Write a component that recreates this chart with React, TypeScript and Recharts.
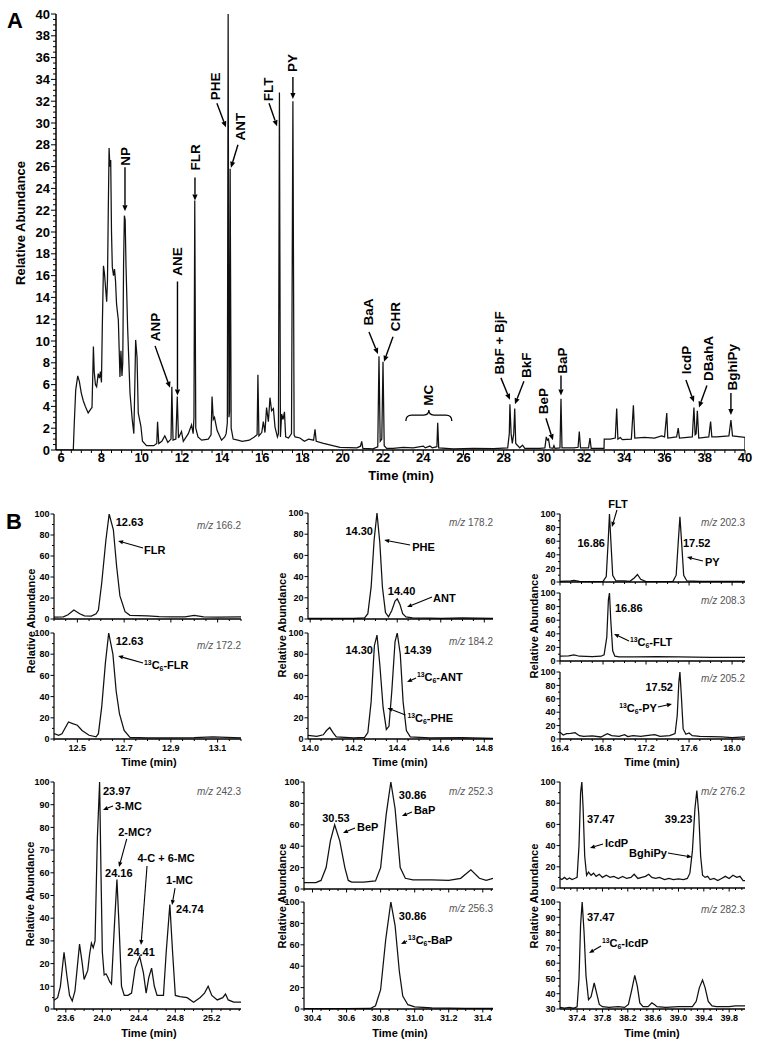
import { Line, LineChart, ReferenceDot, XAxis, YAxis } from "recharts";

const FONT = "'Liberation Sans', Arial, Helvetica, sans-serif";

type Pt = [number, number];
type Box = { left: number; right: number; top: number; bottom: number };
type Note = {
  x: number;
  y: number;
  label?: string;
  at?: [number, number];
  tail?: [number, number];
  anchor?: "start" | "middle" | "end";
  mz?: boolean;
  brace?: boolean;
};

// ---- panel A: full scan chromatogram (time min, relative abundance) ----
const fullScan: Pt[] = [
  [5.74, 0], [6.6, 0], [6.65, 2.5], [6.72, 5.5], [6.82, 6.8], [6.9, 6.3], [7.0, 5.2], [7.1, 4.5], [7.2, 4.0],
  [7.34, 3.4], [7.45, 3.7], [7.53, 3.9], [7.57, 7], [7.6, 9.5], [7.64, 7.2], [7.7, 6.0], [7.76, 5.8], [7.84, 7.0],
  [7.9, 6.6], [7.95, 7.2], [8.0, 6.2], [8.04, 11], [8.1, 16.9], [8.15, 16.2], [8.2, 15.0], [8.26, 13.6], [8.3, 15.6],
  [8.34, 22], [8.38, 27.7], [8.42, 26.0], [8.46, 26.6], [8.5, 20], [8.54, 16.8], [8.6, 16.0], [8.65, 16.6], [8.7, 15.5],
  [8.75, 13.4], [8.84, 11.9], [8.92, 6.7], [8.97, 9.1], [9.02, 6.8], [9.06, 8], [9.1, 17], [9.14, 21.5], [9.18, 21.1],
  [9.22, 17], [9.3, 11.3], [9.42, 5.2], [9.53, 2.8], [9.61, 1.5], [9.66, 6], [9.7, 10.1], [9.74, 9.2], [9.77, 8.5],
  [9.83, 3.4], [9.96, 2.2], [10.04, 0.8], [10.24, 0.4], [10.6, 0.4], [10.75, 0.6], [10.79, 2.6], [10.85, 0.6],
  [11.0, 0.8], [11.15, 1.3], [11.3, 0.7], [11.46, 1.0], [11.5, 5.8], [11.56, 0.9], [11.7, 1.0], [11.77, 4.9],
  [11.83, 1.1], [11.98, 1.7], [12.07, 0.8], [12.32, 1.5], [12.48, 2.3], [12.56, 1.5], [12.6, 3], [12.64, 22.9],
  [12.69, 2.0], [12.8, 1.2], [12.98, 0.9], [13.31, 1.0], [13.45, 1.4], [13.5, 4.9], [13.56, 2.8], [13.62, 3.0],
  [13.75, 1.8], [13.97, 0.9], [14.13, 1.2], [14.2, 1.5], [14.26, 2.5], [14.3, 40], [14.34, 3], [14.37, 3.5],
  [14.4, 25.8], [14.45, 2], [14.55, 1.0], [14.78, 0.9], [15.0, 0.8], [15.35, 0.9], [15.6, 1.2], [15.74, 1.4],
  [15.78, 6.9], [15.83, 1.3], [15.97, 1.6], [16.05, 2.6], [16.13, 1.6], [16.21, 3.9], [16.3, 2.6], [16.38, 4.8],
  [16.46, 3.6], [16.55, 3.8], [16.63, 2.1], [16.75, 1.2], [16.8, 1.5], [16.85, 32.8], [16.9, 1.2], [16.96, 3.3],
  [17.03, 2.8], [17.1, 3.5], [17.16, 1.2], [17.3, 1.1], [17.45, 1.5], [17.52, 32], [17.58, 1.4], [17.63, 1.2],
  [17.87, 1.1], [18.09, 0.8], [18.3, 1.0], [18.55, 0.9], [18.62, 1.9], [18.68, 0.8], [19.04, 0.6], [19.4, 0.45],
  [19.86, 0.25], [20.3, 0.22], [20.7, 0.2], [20.88, 0.35], [20.94, 0.8], [21.0, 0.15], [21.5, 0.1], [21.74, 0.3],
  [21.8, 8.6], [21.86, 0.8], [21.94, 1.0], [22.0, 8.1], [22.06, 0.4], [22.18, 0.15], [22.5, 0.15], [23.0, 0.25],
  [23.5, 0.2], [24.0, 0.36], [24.1, 0.2], [24.33, 0.36], [24.45, 0.2], [24.68, 0.3], [24.72, 2.5], [24.77, 0.2],
  [25.5, 0.1], [26.5, 0.15], [27.5, 0.12], [28.2, 0.2], [28.28, 1.5], [28.31, 4.2], [28.37, 1.5], [28.43, 0.6],
  [28.5, 1.5], [28.55, 3.8], [28.6, 0.6], [28.8, 0.2], [28.94, 0.45], [29.05, 0.15], [29.8, 0.15], [30.05, 0.2],
  [30.12, 1.2], [30.18, 0.9], [30.23, 1.0], [30.3, 0.2], [30.45, 0.15], [30.5, 0.4], [30.55, 0.15], [30.8, 0.2],
  [30.85, 4.7], [30.9, 0.2], [31.5, 0.2], [31.7, 0.25], [31.76, 1.7], [31.82, 0.2], [32.22, 0.2], [32.29, 1.1],
  [32.35, 0.15], [32.99, 0.15], [33.0, 1.0], [33.3, 1.0], [33.55, 1.1], [33.62, 3.8], [33.68, 1.0], [33.8, 1.15],
  [33.9, 0.95], [34.35, 1.0], [34.45, 4.1], [34.52, 1.1], [35.0, 1.15], [35.5, 1.1], [35.85, 1.3], [36.0, 1.2],
  [36.11, 3.4], [36.16, 1.1], [36.6, 1.2], [36.68, 2.0], [36.74, 1.1], [37.38, 1.2], [37.46, 3.9], [37.52, 1.4],
  [37.57, 1.5], [37.63, 3.6], [37.7, 1.1], [38.2, 1.2], [38.29, 2.6], [38.35, 1.2], [38.6, 1.2], [39.2, 1.3],
  [39.3, 2.75], [39.38, 1.3], [40.0, 1.15], [40.0, 0],
];
const fullScanTimeLabels = [6, 8, 10, 12, 14, 16, 18, 20, 22, 24, 26, 28, 30, 32, 34, 36, 38, 40];
const fullScanAbundanceLabels = [0, 2, 4, 6, 8, 10, 12, 14, 16, 18, 20, 22, 24, 26, 28, 30, 32, 34, 36, 38, 40];

// ---- panel B: selected ion traces ----
const flr166: Pt[] = [
  [12.4, 1.8], [12.44, 2], [12.46, 4], [12.485, 8.6], [12.51, 5], [12.53, 3], [12.56, 2.8], [12.58, 5], [12.59, 8.6],
  [12.604, 34], [12.622, 75], [12.636, 100], [12.654, 85], [12.668, 50], [12.682, 22], [12.704, 7], [12.725, 3.5],
  [12.8, 3], [12.85, 2.3], [12.9, 2], [12.96, 2], [13.0, 3.5], [13.04, 2], [13.1, 1.8], [13.2, 2],
];
const flr172: Pt[] = [
  [12.4, 5], [12.42, 3.5], [12.434, 5], [12.462, 16], [12.48, 14.5], [12.5, 13], [12.52, 8], [12.55, 3.5], [12.58, 2],
  [12.59, 5], [12.604, 30], [12.62, 72], [12.634, 100], [12.652, 80], [12.666, 45], [12.68, 24], [12.7, 8],
  [12.725, 1.5], [12.8, 1], [12.9, 1], [13.0, 1.3], [13.08, 2], [13.2, 1],
];
const phe178: Pt[] = [
  [13.99, 0.5], [14.1, 0.5], [14.2, 0.5], [14.25, 1], [14.265, 5], [14.28, 30], [14.294, 75], [14.307, 100],
  [14.32, 72], [14.332, 30], [14.346, 6], [14.36, 2], [14.375, 8], [14.39, 17], [14.4, 19], [14.412, 14],
  [14.425, 5], [14.44, 2], [14.47, 1], [14.55, 0.8], [14.6, 0.6], [14.7, 1], [14.84, 0.6],
];
const phe184: Pt[] = [
  [13.99, 3.5], [14.03, 2.5], [14.06, 4], [14.075, 8], [14.09, 10.8], [14.105, 6], [14.12, 2], [14.2, 1], [14.25, 1.5],
  [14.265, 6], [14.28, 35], [14.295, 88], [14.307, 98], [14.32, 70], [14.335, 30], [14.35, 9], [14.362, 12],
  [14.375, 45], [14.39, 92], [14.4, 100], [14.414, 80], [14.427, 35], [14.442, 8], [14.46, 2], [14.55, 1],
  [14.7, 1.2], [14.84, 0.6],
];
const flt202: Pt[] = [
  [16.4, 1], [16.5, 1.5], [16.53, 2.5], [16.58, 1], [16.7, 0.5], [16.8, 0.8], [16.83, 8], [16.848, 60], [16.86, 100],
  [16.873, 60], [16.89, 10], [16.92, 1.5], [17.0, 1.5], [17.05, 1], [17.09, 6], [17.12, 11], [17.15, 4], [17.2, 0.5],
  [17.3, 0.5], [17.45, 1], [17.48, 10], [17.5, 60], [17.515, 96], [17.53, 60], [17.55, 10], [17.58, 1.5],
  [17.7, 0.8], [18.0, 0.8], [18.12, 1],
];
const flt208: Pt[] = [
  [16.4, 7.3], [16.48, 7.5], [16.53, 9], [16.58, 7], [16.7, 6.5], [16.78, 7], [16.81, 9], [16.835, 35], [16.85, 90],
  [16.86, 100], [16.872, 60], [16.89, 15], [16.91, 7], [16.95, 6], [17.1, 6], [17.3, 6.5], [17.5, 6], [17.8, 5.5],
  [18.12, 5.5],
];
const py205: Pt[] = [
  [16.4, 10], [16.43, 6], [16.46, 8], [16.5, 8.5], [16.54, 9.5], [16.58, 5], [16.62, 4], [16.7, 4.5], [16.78, 3],
  [16.84, 8], [16.88, 5], [16.95, 4], [17.0, 6.5], [17.03, 3.5], [17.08, 5], [17.15, 4], [17.22, 5.5], [17.28, 6.5],
  [17.33, 4], [17.42, 5], [17.47, 8], [17.49, 35], [17.505, 85], [17.515, 100], [17.528, 65], [17.545, 15],
  [17.57, 7], [17.6, 9], [17.63, 5], [17.7, 4], [17.8, 3.5], [17.9, 3], [18.0, 2], [18.12, 3],
];
const mc242: Pt[] = [
  [23.47, 3.8], [23.51, 5], [23.54, 10], [23.58, 25], [23.61, 15], [23.64, 6], [23.67, 3.5], [23.7, 8], [23.75, 28.6],
  [23.78, 20], [23.8, 13], [23.82, 15], [23.84, 17], [23.86, 24], [23.88, 29], [23.9, 27], [23.92, 30], [23.945, 75],
  [23.97, 100], [23.985, 60], [24.0, 25], [24.02, 15], [24.04, 15.5], [24.06, 14], [24.08, 12], [24.1, 11],
  [24.13, 35], [24.16, 57], [24.185, 35], [24.21, 10], [24.24, 6], [24.28, 6], [24.32, 7], [24.36, 18], [24.41, 23],
  [24.45, 16], [24.48, 7], [24.51, 14], [24.54, 18], [24.57, 10], [24.6, 6], [24.67, 6], [24.7, 25], [24.74, 46],
  [24.77, 25], [24.8, 6], [24.85, 5.5], [24.93, 5], [25.0, 3], [25.07, 5], [25.12, 7], [25.16, 10], [25.2, 6],
  [25.26, 4], [25.32, 5], [25.35, 6.6], [25.38, 4], [25.44, 3], [25.52, 3],
];
const bap252: Pt[] = [
  [30.35, 6], [30.42, 6], [30.45, 8], [30.48, 20], [30.505, 45], [30.53, 60], [30.56, 45], [30.59, 20], [30.61, 8],
  [30.63, 6.5], [30.7, 6.5], [30.77, 7.5], [30.8, 20], [30.833, 70], [30.86, 100], [30.885, 75], [30.915, 20],
  [30.945, 10], [30.99, 8.5], [31.1, 8.5], [31.2, 8], [31.27, 10], [31.33, 18], [31.38, 10], [31.42, 8], [31.46, 10],
];
const bap256: Pt[] = [
  [30.35, 0.3], [30.6, 0.3], [30.74, 0.5], [30.77, 3], [30.8, 18], [30.83, 65], [30.86, 100], [30.885, 78],
  [30.91, 35], [30.93, 12], [30.96, 4], [31.0, 2], [31.1, 1], [31.3, 0.6], [31.46, 0.5],
];
const icdp276: Pt[] = [
  [37.13, 9], [37.16, 8], [37.2, 10], [37.24, 8], [37.28, 9.5], [37.32, 8], [37.36, 9], [37.4, 10], [37.43, 40],
  [37.455, 90], [37.475, 100], [37.495, 75], [37.52, 30], [37.55, 12], [37.58, 15], [37.62, 12], [37.66, 14],
  [37.7, 11], [37.75, 13], [37.8, 10], [37.86, 12], [37.92, 10], [37.98, 11], [38.05, 9], [38.12, 11], [38.18, 9],
  [38.25, 10], [38.3, 13], [38.36, 9], [38.42, 10], [38.48, 11], [38.53, 13], [38.58, 10], [38.64, 9], [38.7, 10],
  [38.78, 8], [38.85, 9], [38.92, 8], [39.0, 8.5], [39.08, 8], [39.14, 9], [39.18, 14], [39.22, 35], [39.26, 75],
  [39.29, 92], [39.32, 70], [39.35, 30], [39.38, 12], [39.42, 10], [39.46, 11], [39.5, 8], [39.56, 9], [39.62, 7],
  [39.68, 9], [39.74, 11], [39.8, 9], [39.86, 12], [39.92, 10], [39.97, 11], [40.02, 7], [40.05, 7],
];
const icdp282: Pt[] = [
  [37.13, 31], [37.2, 30.5], [37.28, 31], [37.34, 30.5], [37.4, 31.5], [37.43, 50], [37.455, 85], [37.48, 100],
  [37.51, 80], [37.54, 52], [37.58, 36], [37.62, 38], [37.67, 47], [37.71, 40], [37.75, 33], [37.8, 31.5],
  [37.9, 31], [38.05, 31.5], [38.15, 31], [38.21, 33], [38.26, 42], [38.31, 52], [38.35, 45], [38.39, 34],
  [38.44, 31.5], [38.52, 31.5], [38.58, 34], [38.62, 33], [38.66, 31.5], [38.8, 31], [39.0, 31.5], [39.22, 31.5],
  [39.28, 35], [39.33, 44], [39.38, 49], [39.42, 44], [39.47, 35], [39.53, 32], [39.6, 31.5], [39.8, 31.5],
  [39.9, 32], [40.05, 32],
];

const pctLabels = [0, 20, 40, 60, 80, 100];
const pctLabelsTens = [0, 10, 20, 30, 40, 50, 60, 70, 80, 90, 100];
const pctLabelsFrom30 = [30, 40, 50, 60, 70, 80, 90, 100];
const flrTimeLabels = [12.5, 12.7, 12.9, 13.1];
const pheTimeLabels = [14.0, 14.2, 14.4, 14.6, 14.8];
const fltTimeLabels = [16.4, 16.8, 17.2, 17.6, 18.0];
const mcTimeLabels = [23.6, 24.0, 24.4, 24.8, 25.2];
const bapTimeLabels = [30.4, 30.6, 30.8, 31.0, 31.2, 31.4];
const icdpTimeLabels = [37.4, 37.8, 38.2, 38.6, 39.0, 39.4, 39.8];

// ---- annotations: tip in data units, tail / label offsets in px ----
const fullScanNotes: Note[] = [
  { x: 9.17, y: 21.9, label: "NP", tail: [0, -44], at: [0, -55] },
  { x: 12.65, y: 22.9, label: "FLR", tail: [0, -23], at: [0, -43] },
  { x: 14.19, y: 29.6, label: "PHE", tail: [-9, -24], at: [-11, -41] },
  { x: 14.44, y: 25.9, label: "ANT", tail: [7, -23], at: [9, -41] },
  { x: 16.73, y: 29.7, label: "FLT", tail: [-8, -23], at: [-9, -37] },
  { x: 17.52, y: 32.2, label: "PY", tail: [0, -22], at: [0, -36] },
  { x: 11.78, y: 5.0, label: "ANE", tail: [0, -114], at: [0, -134] },
  { x: 11.41, y: 5.7, label: "ANP", tail: [-15, -42], at: [-15, -61] },
  { x: 21.75, y: 8.8, label: "BaA", tail: [-9, -22], at: [-10, -42] },
  { x: 22.05, y: 8.1, label: "CHR", tail: [9, -25], at: [11, -45] },
  { x: 28.31, y: 4.6, label: "BbF + BjF", tail: [-9, -22], at: [-10, -57] },
  { x: 28.56, y: 4.2, label: "BkF", tail: [9, -23], at: [11, -39] },
  { x: 30.45, y: 0.9, label: "BeP", tail: [-7, -22], at: [-10, -39] },
  { x: 30.85, y: 5.0, label: "BaP", tail: [0, -20], at: [1, -35] },
  { x: 37.46, y: 4.4, label: "IcdP", tail: [-8, -22], at: [-8, -42] },
  { x: 37.71, y: 3.9, label: "DBahA", tail: [8, -22], at: [9, -49] },
  { x: 39.3, y: 3.2, label: "BghiPy", tail: [0, -22], at: [1, -48] },
  { x: 24.28, y: 3.2, label: "MC", brace: true, at: [0, -20] },
];
const flr166Notes: Note[] = [
  { x: 12.63, y: 100, label: "12.63", at: [8, 8] },
  { x: 12.674, y: 74.3, label: "FLR", tail: [25, 7], at: [26, 9] },
  { x: 13.2, y: 100, label: "166.2", mz: true, at: [0, 11] },
];
const flr172Notes: Note[] = [
  { x: 12.63, y: 100, label: "12.63", at: [8, 8] },
  { x: 12.674, y: 78.3, label: "13C6-FLR", tail: [25, 7], at: [26, 9] },
  { x: 13.2, y: 100, label: "172.2", mz: true, at: [0, 12] },
];
const phe178Notes: Note[] = [
  { x: 14.3, y: 100, label: "14.30", at: [-2.5, 18], anchor: "end" },
  { x: 14.34, y: 74.5, label: "PHE", tail: [26, 5], at: [28, 7] },
  { x: 14.4, y: 19, label: "14.40", at: [4.3, -8.2], anchor: "middle" },
  { x: 14.445, y: 11.3, label: "ANT", tail: [25, -10], at: [26, -9] },
  { x: 14.84, y: 100, label: "178.2", mz: true, at: [0, 9] },
];
const phe184Notes: Note[] = [
  { x: 14.3, y: 100, label: "14.30", at: [-2.5, 17], anchor: "end" },
  { x: 14.39, y: 100, label: "14.39", at: [9, 17] },
  { x: 14.445, y: 53.8, label: "13C6-ANT", tail: [9, -4], at: [10, -5] },
  { x: 14.355, y: 29.2, label: "13C6-PHE", tail: [18, 7], at: [20, 10] },
  { x: 14.84, y: 100, label: "184.2", mz: true, at: [0, 8] },
];
const flt202Notes: Note[] = [
  { x: 16.883, y: 80.9, label: "FLT", tail: [5, -17], at: [6, -23], anchor: "middle" },
  { x: 16.86, y: 100, label: "16.86", at: [-4.5, 29], anchor: "end" },
  { x: 17.52, y: 100, label: "17.52", at: [2.5, 29] },
  { x: 17.58, y: 36.8, label: "PY", tail: [16, 4], at: [18, 5] },
  { x: 18.12, y: 100, label: "202.3", mz: true, at: [0, 8] },
];
const flt208Notes: Note[] = [
  { x: 16.86, y: 100, label: "16.86", at: [5.5, 15] },
  { x: 16.902, y: 39.7, label: "13C6-FLT", tail: [15, 7], at: [16, 8] },
  { x: 18.12, y: 100, label: "208.3", mz: true, at: [0, 7] },
];
const py205Notes: Note[] = [
  { x: 17.52, y: 100, label: "17.52", at: [-7.5, 15], anchor: "end" },
  { x: 17.441, y: 52.2, label: "13C6-PY", tail: [-14, 3], at: [-15, 4], anchor: "end" },
  { x: 18.12, y: 100, label: "205.2", mz: true, at: [0, 6] },
];
const mc242Notes: Note[] = [
  { x: 23.97, y: 100, label: "23.97", at: [3.4, 9] },
  { x: 24.007, y: 87.7, label: "3-MC", tail: [10, -4], at: [12, -4] },
  { x: 24.183, y: 62.6, label: "2-MC?", tail: [7.7, -28], at: [16, -35], anchor: "middle" },
  { x: 24.16, y: 57, label: "24.16", at: [-11.9, -6.6] },
  { x: 24.424, y: 28.2, label: "4-C + 6-MC", tail: [6, -79], at: [25, -87], anchor: "middle" },
  { x: 24.41, y: 23, label: "24.41", at: [1.3, -5], anchor: "middle" },
  { x: 24.764, y: 45.8, label: "1-MC", tail: [3, -17], at: [7.5, -25], anchor: "middle" },
  { x: 24.74, y: 46, label: "24.74", at: [6.2, 4.4] },
  { x: 25.52, y: 100, label: "242.3", mz: true, at: [0, 9] },
];
const bap252Notes: Note[] = [
  { x: 30.53, y: 60, label: "30.53", at: [1.3, -6.8], anchor: "middle" },
  { x: 30.579, y: 52.3, label: "BeP", tail: [12, -5], at: [14, -6] },
  { x: 30.86, y: 100, label: "30.86", at: [8, 13] },
  { x: 30.925, y: 68.2, label: "BaP", tail: [10, -4], at: [12, -6] },
  { x: 31.46, y: 100, label: "252.3", mz: true, at: [0, 9] },
];
const bap256Notes: Note[] = [
  { x: 30.86, y: 100, label: "30.86", at: [8, 14] },
  { x: 30.92, y: 60.7, label: "13C6-BaP", tail: [6, -3], at: [7, -4] },
  { x: 31.46, y: 100, label: "256.3", mz: true, at: [0, 6] },
];
const icdp276Notes: Note[] = [
  { x: 37.47, y: 100, label: "37.47", at: [5.5, 37] },
  { x: 37.603, y: 37.7, label: "IcdP", tail: [13, -4], at: [15, -5] },
  { x: 39.29, y: 92, label: "39.23", at: [-4.5, 28.5], anchor: "end" },
  { x: 39.213, y: 29.2, label: "BghiPy", tail: [-24, -4], at: [-25, -4], anchor: "end" },
  { x: 40.05, y: 100, label: "276.2", mz: true, at: [0, 9] },
];
const icdp282Notes: Note[] = [
  { x: 37.47, y: 100, label: "37.47", at: [5.5, 15] },
  { x: 37.588, y: 66.6, label: "13C6-IcdP", tail: [12, -7], at: [13, -10] },
  { x: 40.05, y: 100, label: "282.3", mz: true, at: [0, 7] },
];

function steps(domain: [number, number], step: number): number[] {
  const out: number[] = [];
  let v = Math.ceil(domain[0] / step - 1e-9) * step;
  while (v <= domain[1] + 1e-9) {
    out.push(Math.round(v * 10000) / 10000);
    v += step;
  }
  return out;
}

const isMajor = (v: number, majors: number[]) => majors.some((m) => Math.abs(m - v) < 1e-6);

function Arrow({ x1, y1, x2, y2, big }: { x1: number; y1: number; x2: number; y2: number; big: boolean }) {
  const len = big ? 6 : 5;
  const half = big ? 2.6 : 2.1;
  const a = Math.atan2(y2 - y1, x2 - x1);
  const hx = x2 - len * Math.cos(a);
  const hy = y2 - len * Math.sin(a);
  const px = -Math.sin(a) * half;
  const py = Math.cos(a) * half;
  return (
    <g>
      <line x1={x1} y1={y1} x2={hx} y2={hy} stroke="#000" strokeWidth={big ? 1.4 : 1.1} />
      <polygon points={`${x2},${y2} ${hx + px},${hy + py} ${hx - px},${hy - py}`} fill="#000" />
    </g>
  );
}

function NoteText({ text, x, y, anchor, fs }: { text: string; x: number; y: number; anchor: string; fs: number }) {
  const base = y + fs * 0.35;
  if (!text.startsWith("13C6")) {
    return (
      <text x={x} y={base} textAnchor={anchor} fontSize={fs} fontWeight="bold" fontFamily={FONT} fill="#000">
        {text}
      </text>
    );
  }
  const small = fs * 0.62;
  return (
    <text x={x} y={base} textAnchor={anchor} fontSize={fs} fontWeight="bold" fontFamily={FONT} fill="#000">
      <tspan fontSize={small} dy={-4}>13</tspan>
      <tspan dy={4}>C</tspan>
      <tspan fontSize={small} dy={2.5}>6</tspan>
      <tspan dy={-2.5}>{text.slice(4)}</tspan>
    </text>
  );
}

function NoteMark({ cx, cy, note, big }: { cx?: number; cy?: number; note: Note; big: boolean }) {
  if (typeof cx !== "number" || typeof cy !== "number") return <g />;
  const [ax, ay] = note.at ?? [0, 0];
  const lx = cx + ax;
  const ly = cy + ay;
  return (
    <g>
      {note.tail ? <Arrow x1={cx + note.tail[0]} y1={cy + note.tail[1]} x2={cx} y2={cy} big={big} /> : null}
      {note.brace ? (
        <path
          d={`M${cx - 23},${cy + 6} Q${cx - 23},${cy} ${cx - 17},${cy} L${cx - 5},${cy} Q${cx},${cy} ${cx},${cy - 5} Q${cx},${cy} ${cx + 5},${cy} L${cx + 17},${cy} Q${cx + 23},${cy} ${cx + 23},${cy + 6}`}
          fill="none"
          stroke="#000"
          strokeWidth={1.3}
        />
      ) : null}
      {note.label && note.mz ? (
        <text x={lx} y={ly + 3.5} textAnchor="end" fontSize={10} fontFamily={FONT} fill="#555">
          <tspan fontStyle="italic">m/z</tspan> {note.label}
        </text>
      ) : note.label && big ? (
        <text
          x={lx}
          y={ly + 4.6}
          transform={`rotate(-90 ${lx} ${ly})`}
          textAnchor="middle"
          fontSize={13.5}
          fontWeight="bold"
          fontFamily={FONT}
          fill="#000"
        >
          {note.label}
        </text>
      ) : note.label ? (
        <NoteText text={note.label} x={lx} y={ly} anchor={note.anchor ?? "start"} fs={11} />
      ) : null}
    </g>
  );
}

type PlotProps = {
  box: Box;
  xDomain: [number, number];
  yDomain: [number, number];
  points: Pt[];
  xMajor: number[];
  xStep: number;
  yMajor: number[];
  yStep: number;
  xLabels: boolean;
  notes: Note[];
  big?: boolean;
};

function Plot({ box, xDomain, yDomain, points, xMajor, xStep, yMajor, yStep, xLabels, notes, big = false }: PlotProps) {
  const padL = big ? box.left : 50;
  const padT = big ? box.top : 30;
  const padR = 12;
  const padB = big ? 30 : 22;
  const width = box.right - box.left + padL + padR;
  const height = box.bottom - box.top + padT + padB;
  const rows = points.map(([t, v]) => ({ t, v }));
  const fs = big ? 13 : 9;

  const xTick = (p: any) => {
    const v = p.payload.value as number;
    const major = isMajor(v, xMajor);
    return (
      <g>
        <line x1={p.x} x2={p.x} y1={p.y} y2={p.y + (major ? (big ? 5 : 3.5) : big ? 3 : 2)} stroke="#000" />
        {major && xLabels ? (
          <text x={p.x} y={p.y + 12.3} textAnchor="middle" fontSize={fs} fontWeight="bold" fontFamily={FONT} fill="#000">
            {big ? String(v) : v.toFixed(1)}
          </text>
        ) : null}
      </g>
    );
  };

  const yTick = (p: any) => {
    const v = p.payload.value as number;
    const major = isMajor(v, yMajor);
    return (
      <g>
        <line x1={p.x} x2={p.x - (major ? (big ? 5 : 3.5) : big ? 3 : 2)} y1={p.y} y2={p.y} stroke="#000" />
        {major ? (
          <text
            x={p.x - (big ? 6 : 4.5)}
            y={p.y + fs * 0.36}
            textAnchor="end"
            fontSize={fs}
            fontWeight="bold"
            fontFamily={FONT}
            fill="#000"
          >
            {v}
          </text>
        ) : null}
      </g>
    );
  };

  return (
    <div style={{ position: "absolute", left: box.left - padL, top: box.top - padT }}>
      <LineChart width={width} height={height} data={rows} margin={{ top: padT, right: padR, left: 0, bottom: 0 }}>
        <XAxis
          dataKey="t"
          type="number"
          domain={xDomain}
          allowDataOverflow
          ticks={steps(xDomain, xStep)}
          interval={0}
          tickSize={0}
          tickMargin={0}
          tickLine={false}
          height={padB}
          axisLine={{ stroke: "#000", strokeWidth: 1.5 }}
          tick={xTick}
        />
        <YAxis
          type="number"
          domain={yDomain}
          allowDataOverflow
          ticks={steps(yDomain, yStep)}
          interval={0}
          tickSize={0}
          tickMargin={0}
          tickLine={false}
          width={padL}
          axisLine={{ stroke: "#000", strokeWidth: big ? 1.5 : 1.2 }}
          tick={yTick}
        />
        <Line
          dataKey="v"
          type="linear"
          stroke="#111"
          strokeWidth={1.25}
          dot={false}
          activeDot={false}
          isAnimationActive={false}
        />
        {notes.map((n, i) => (
          <ReferenceDot
            key={i}
            x={n.x}
            y={n.y}
            ifOverflow="visible"
            shape={(props: any) => <NoteMark cx={props.cx} cy={props.cy} note={n} big={big} />}
          />
        ))}
      </LineChart>
    </div>
  );
}

function Rotated({ x, y, size, children }: { x: number; y: number; size: number; children: string }) {
  return (
    <text
      x={x}
      y={y + size * 0.35}
      transform={`rotate(-90 ${x} ${y})`}
      textAnchor="middle"
      fontSize={size}
      fontWeight="bold"
      fontFamily={FONT}
    >
      {children}
    </text>
  );
}

function Centered({ x, y, size, children }: { x: number; y: number; size: number; children: string }) {
  return (
    <text x={x} y={y + size * 0.35} textAnchor="middle" fontSize={size} fontWeight="bold" fontFamily={FONT}>
      {children}
    </text>
  );
}

export default function App() {
  const c1 = { left: 54, right: 241 };
  const c2 = { left: 308, right: 493 };
  const c3 = { left: 560, right: 745 };
  const r2c2 = { left: 304, right: 493 };
  return (
    <div style={{ position: "absolute", left: 0, top: 0, width: 762, height: 1050, background: "#fff" }}>
      <Plot
        big
        box={{ left: 56, right: 745, top: 14, bottom: 450 }}
        xDomain={[5.74, 40]}
        yDomain={[0, 40]}
        points={fullScan}
        xMajor={fullScanTimeLabels}
        xStep={0.5}
        yMajor={fullScanAbundanceLabels}
        yStep={0.5}
        xLabels
        notes={fullScanNotes}
      />

      <Plot box={{ ...c1, top: 514, bottom: 619 }} xDomain={[12.4, 13.2]} yDomain={[0, 100]} points={flr166}
        xMajor={flrTimeLabels} xStep={0.05} yMajor={pctLabels} yStep={10} xLabels={false} notes={flr166Notes} />
      <Plot box={{ ...c1, top: 633, bottom: 739 }} xDomain={[12.4, 13.2]} yDomain={[0, 100]} points={flr172}
        xMajor={flrTimeLabels} xStep={0.05} yMajor={pctLabels} yStep={10} xLabels notes={flr172Notes} />

      <Plot box={{ ...c2, top: 513, bottom: 619 }} xDomain={[13.99, 14.84]} yDomain={[0, 100]} points={phe178}
        xMajor={pheTimeLabels} xStep={0.05} yMajor={pctLabels} yStep={10} xLabels={false} notes={phe178Notes} />
      <Plot box={{ ...c2, top: 633, bottom: 739 }} xDomain={[13.99, 14.84]} yDomain={[0, 100]} points={phe184}
        xMajor={pheTimeLabels} xStep={0.05} yMajor={pctLabels} yStep={10} xLabels notes={phe184Notes} />

      <Plot box={{ ...c3, top: 514, bottom: 582 }} xDomain={[16.4, 18.12]} yDomain={[0, 100]} points={flt202}
        xMajor={fltTimeLabels} xStep={0.1} yMajor={pctLabels} yStep={10} xLabels={false} notes={flt202Notes} />
      <Plot box={{ ...c3, top: 593, bottom: 661 }} xDomain={[16.4, 18.12]} yDomain={[0, 100]} points={flt208}
        xMajor={fltTimeLabels} xStep={0.1} yMajor={pctLabels} yStep={10} xLabels={false} notes={flt208Notes} />
      <Plot box={{ ...c3, top: 672, bottom: 739 }} xDomain={[16.4, 18.12]} yDomain={[0, 100]} points={py205}
        xMajor={fltTimeLabels} xStep={0.1} yMajor={pctLabels} yStep={10} xLabels notes={py205Notes} />

      <Plot box={{ ...c1, top: 782, bottom: 1009 }} xDomain={[23.47, 25.52]} yDomain={[0, 100]} points={mc242}
        xMajor={mcTimeLabels} xStep={0.1} yMajor={pctLabelsTens} yStep={5} xLabels notes={mc242Notes} />

      <Plot box={{ ...r2c2, top: 782, bottom: 889 }} xDomain={[30.35, 31.46]} yDomain={[0, 100]} points={bap252}
        xMajor={bapTimeLabels} xStep={0.05} yMajor={pctLabels} yStep={10} xLabels={false} notes={bap252Notes} />
      <Plot box={{ ...r2c2, top: 902, bottom: 1009 }} xDomain={[30.35, 31.46]} yDomain={[0, 100]} points={bap256}
        xMajor={bapTimeLabels} xStep={0.05} yMajor={pctLabels} yStep={10} xLabels notes={bap256Notes} />

      <Plot box={{ ...c3, top: 782, bottom: 888 }} xDomain={[37.13, 40.05]} yDomain={[0, 100]} points={icdp276}
        xMajor={icdpTimeLabels} xStep={0.1} yMajor={pctLabels} yStep={10} xLabels={false} notes={icdp276Notes} />
      <Plot box={{ ...c3, top: 902, bottom: 1009 }} xDomain={[37.13, 40.05]} yDomain={[30, 100]} points={icdp282}
        xMajor={icdpTimeLabels} xStep={0.1} yMajor={pctLabelsFrom30} yStep={5} xLabels notes={icdp282Notes} />

      <svg width={762} height={1050} style={{ position: "absolute", left: 0, top: 0, pointerEvents: "none" }}>
        <text x={7} y={28} fontSize={22} fontWeight="bold" fontFamily={FONT}>A</text>
        <text x={6} y={529} fontSize={22} fontWeight="bold" fontFamily={FONT}>B</text>
        <Rotated x={20.5} y={223} size={13}>Relative Abundance</Rotated>
        <Centered x={401} y={475} size={13}>Time (min)</Centered>
        <Rotated x={31} y={621} size={11}>Relative Abundance</Rotated>
        <Rotated x={282} y={625} size={11}>Relative Abundance</Rotated>
        <Rotated x={534} y={626} size={11}>Relative Abundance</Rotated>
        <Rotated x={30} y={894} size={11}>Relative Abundance</Rotated>
        <Rotated x={282} y={896} size={11}>Relative Abundance</Rotated>
        <Rotated x={534} y={896} size={11}>Relative Abundance</Rotated>
        <Centered x={149} y={762} size={11}>Time (min)</Centered>
        <Centered x={400} y={762} size={11}>Time (min)</Centered>
        <Centered x={652} y={762} size={11}>Time (min)</Centered>
        <Centered x={149} y={1033} size={11}>Time (min)</Centered>
        <Centered x={400} y={1033} size={11}>Time (min)</Centered>
        <Centered x={652} y={1033} size={11}>Time (min)</Centered>
      </svg>
    </div>
  );
}
